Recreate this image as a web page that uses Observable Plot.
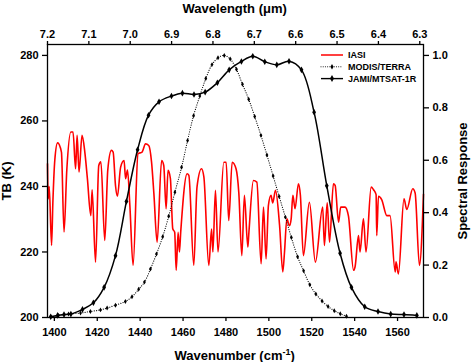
<!DOCTYPE html>
<html>
<head>
<meta charset="utf-8">
<script src="https://cdn.jsdelivr.net/npm/d3@7"></script>
<script src="https://cdn.jsdelivr.net/npm/@observablehq/plot@0.6"></script>
<style>
  html, body { margin: 0; padding: 0; background: #fff; }
  #chart svg { display: block; }
</style>
</head>
<body>
<div id="chart"></div>
<script>
// IASI brightness temperature spectrum (K) against wavenumber (cm-1)
const iasiWavenumber = [1396.8,1397.1,1397.6,1398.7,1399.3,1400.2,1401.5,1403.3,1404.5,1405.8,1407.7,1408.7,1409.9,1410.6,1411.5,1412.9,1414.2,1415.4,1417.0,1417.6,1419.2,1420.7,1421.7,1423.5,1424.9,1426.6,1427.4,1428.5,1429.4,1430.9,1432.5,1433.2,1434.1,1435.2,1436.7,1439.0,1440.9,1442.5,1444.0,1445.3,1446.4,1447.9,1450.0,1451.0,1452.1,1453.0,1454.1,1455.2,1456.1,1456.8,1457.7,1458.3,1458.9,1461.9,1462.7,1465.0,1466.5,1468.6,1469.7,1472.0,1473.3,1473.9,1475.1,1476.3,1479.0,1480.1,1481.3,1482.9,1484.7,1486.0,1487.4,1488.6,1490.2,1490.7,1492.8,1494.4,1496.4,1497.5,1498.7,1499.8,1501.0,1501.8,1503.1,1505.0,1506.5,1507.3,1508.4,1509.6,1510.4,1511.2,1512.2,1513.8,1514.7,1516.1,1518.9,1521.7,1525.1,1525.9,1527.2,1528.3,1530.1,1530.9,1532.5,1533.5,1535.5,1537.1,1539.5,1540.2,1541.8,1542.5,1544.1,1545.3,1547.7,1548.8,1550.0,1550.3,1551.1,1552.6,1555.0,1556.5,1558.9,1559.3,1560.4,1563.0,1564.3,1567.1,1568.2,1570.2,1572.1];
const iasiTb = [246.9,236.2,240,222.0,235,248,253.3,250.5,226.1,245,256.6,256.6,245.4,255.6,244.4,255.6,250.5,242.4,231.1,239,216.9,246.4,247.5,223.5,245,251.0,250.5,240.3,237,245.9,247.9,242.4,245,234.2,215.9,250.0,250.5,253.0,252.5,247.5,237.8,223.0,247.9,246.4,233.2,244.9,242.4,227.1,226,214.4,226,220,226,243.9,243.4,215.9,239.8,245.4,242.9,215.9,227,220,238.8,220.0,247.4,247.4,229.6,247.4,245.4,238,218.9,237.3,221.5,226,241.8,241.3,216.4,233.7,217.9,234.2,237.3,235,238.8,228.1,213.9,220,230.1,228,230.1,237.3,233.2,240.8,237.3,218.9,235.2,216.9,233.7,222,235,223.0,240.8,240.3,229.1,233.7,233.7,231,214.4,215.5,225.0,220,230.1,220.0,239.8,239,237.5,225.0,237,236,231.1,231.1,213.9,217,213.3,236.2,233,239.3,238,215.9,237.6];

// MODIS/TERRA spectral response function
const modisWavenumber = [1398.3,1401.9,1406.6,1412.2,1416.8,1421.5,1424.6,1428.5,1433.1,1436.2,1439.3,1442.0,1444.8,1447.6,1450.5,1453.3,1456.2,1459.3,1462.1,1464.9,1467.8,1470.6,1473.5,1476.3,1479.2,1482.0,1484.9,1487.7,1490.6,1493.4,1496.3,1499.1,1502.0,1504.8,1507.7,1510.5,1513.4,1516.2,1519.1,1521.9,1524.8,1527.6,1530.5,1533.3,1536.2];
const modisResponse = [0.003,0.008,0.013,0.017,0.023,0.029,0.036,0.047,0.061,0.079,0.108,0.135,0.185,0.242,0.308,0.386,0.478,0.573,0.675,0.770,0.845,0.912,0.965,0.991,1.000,0.986,0.947,0.890,0.833,0.767,0.695,0.620,0.540,0.462,0.383,0.305,0.232,0.178,0.125,0.090,0.063,0.042,0.026,0.014,0.005];

// JAMI/MTSAT-1R spectral response function
const jamiWavenumber = [1398.3,1401.5,1404.5,1407.7,1413.1,1418.2,1423.2,1428.5,1433.6,1438.8,1443.9,1448.8,1454.6,1459.7,1465.1,1470.3,1476.0,1481.5,1487.2,1492.5,1498.1,1503.7,1509.4,1515.2,1521.1,1527.0,1533.2,1538.5,1544.7,1550.9,1556.8,1563.0,1569.0];
const jamiResponse = [0.003,0.008,0.011,0.013,0.031,0.056,0.115,0.236,0.443,0.640,0.772,0.823,0.845,0.856,0.851,0.860,0.896,0.945,0.977,0.997,0.976,0.964,0.978,0.945,0.783,0.503,0.245,0.115,0.041,0.023,0.013,0.011,0.008];

// Axis ticks
const wavenumberTicks = [1400,1420,1440,1460,1480,1500,1520,1540,1560];
const tbTicks = [200,220,240,260,280];
const responseTicks = [0,0.2,0.4,0.6,0.8,1.0];
const wavelengthTicks = [7.2,7.1,7.0,6.9,6.8,6.7,6.6,6.5,6.4,6.3];

// Scale extents
const wavenumberDomain = [1396.8, 1572.1];
const wavelengthDomain = [7.2, 6.291];   // top axis, linear across the same width
const tbDomain = [200, 283.33];
const responseDomain = [0, 1.0417];      // right axis shares the frame with TB

const legendItems = ["IASI", "MODIS/TERRA", "JAMI/MTSAT-1R"];

// Right axis: response r sits where TB = 200 + 80 r
const respToTb = d3.scaleLinear().domain(responseDomain).range(tbDomain);
const wlToWn = d3.scaleLinear().domain(wavelengthDomain).range(wavenumberDomain);

const iasi = iasiWavenumber.map((x, i) => ({x, y: iasiTb[i]}));
const modis = modisWavenumber.map((x, i) => ({x, y: respToTb(modisResponse[i])}));
const jami = jamiWavenumber.map((x, i) => ({x, y: respToTb(jamiResponse[i])}));

const FONT = "'Liberation Sans', Arial, Helvetica, sans-serif";

const chart = Plot.plot({
  width: 473,
  height: 362,
  marginLeft: 47,
  marginRight: 50,
  marginTop: 44,
  marginBottom: 45,
  style: {fontFamily: FONT, fontSize: "11px", fontWeight: "bold", background: "#fff", color: "#000", overflow: "visible"},
  x: {domain: wavenumberDomain},
  y: {domain: tbDomain},
  marks: [
    Plot.line(iasi, {x: "x", y: "y", stroke: "#ff0000", strokeWidth: 1.6, curve: "monotone-x"}),
    Plot.line(modis, {x: "x", y: "y", stroke: "#000", strokeWidth: 1.2, strokeDasharray: "0.01,2.3", strokeLinecap: "round", curve: "catmull-rom"}),
    Plot.dot(modis, {x: "x", y: "y", symbol: "diamond", r: 1.5, fill: "#000", stroke: "none"}),
    Plot.line(jami, {x: "x", y: "y", stroke: "#000", strokeWidth: 1.5, curve: "catmull-rom"}),
    Plot.dot(jami, {x: "x", y: "y", symbol: "diamond", r: 2, fill: "#000", stroke: "none"}),
    Plot.frame({stroke: "#000", strokeWidth: 1.3}),
    Plot.axisX({anchor: "bottom", ticks: wavenumberTicks, tickSize: 4, tickPadding: 7, label: null, tickFormat: d => String(d), strokeWidth: 1.3}),
    Plot.axisX({anchor: "top", ticks: wavelengthTicks.map(wlToWn), tickSize: 4, tickPadding: 3, label: null,
      tickFormat: v => wlToWn.invert(v).toFixed(1), strokeWidth: 1.3}),
    Plot.axisY({anchor: "left", ticks: tbTicks, tickSize: 5, tickPadding: 4, label: null, tickFormat: d => String(d), strokeWidth: 1.3}),
    Plot.axisY({anchor: "right", ticks: responseTicks.map(respToTb), tickSize: 5, tickPadding: 4, label: null,
      tickFormat: v => respToTb.invert(v).toFixed(1), strokeWidth: 1.3})
  ]
});

document.getElementById("chart").appendChild(chart);

// Axis titles and legend
const svg = d3.select(chart);
const titles = svg.append("g")
  .attr("font-family", FONT).attr("font-weight", "bold").attr("font-size", 13).attr("fill", "#000")
  .attr("text-anchor", "middle");

titles.append("text").attr("x", 234.7).attr("y", 12.5)
  .text("Wavelength (\u03bcm)");

const wn = titles.append("text").attr("x", 234.7).attr("y", 359.5);
wn.append("tspan").text("Wavenumber (cm");
wn.append("tspan").attr("font-size", 9).attr("dy", -5).text("-1");
wn.append("tspan").attr("dy", 5).text(")");

titles.append("text").attr("transform", "translate(11,181) rotate(-90)")
  .text("TB (K)");
titles.append("text").attr("transform", "translate(467,181) rotate(-90)")
  .text("Spectral Response");

const legend = svg.append("g")
  .attr("font-family", FONT).attr("font-weight", "bold").attr("font-size", 9)
  .attr("text-anchor", "start").attr("fill", "#000");
const ly = [55, 66.8, 78.6];
legendItems.forEach((name, i) => {
  const g = legend.append("g").attr("transform", `translate(0,${ly[i]})`);
  const line = g.append("line").attr("x1", 321).attr("x2", 343).attr("y1", 0).attr("y2", 0);
  if (i === 0) line.attr("stroke", "#ff0000").attr("stroke-width", 1.5);
  if (i === 1) line.attr("stroke", "#000").attr("stroke-width", 1.1).attr("stroke-dasharray", "0.01,2.2").attr("stroke-linecap", "round");
  if (i === 2) line.attr("stroke", "#000").attr("stroke-width", 1.4);
  if (i > 0) g.append("path").attr("d", d3.symbol(d3.symbolDiamond, i === 2 ? 14 : 9)()).attr("transform", "translate(332,0)").attr("fill", "#000");
  g.append("text").attr("x", 348).attr("y", 0).attr("dy", "0.35em").text(name);
});
</script>
</body>
</html>
